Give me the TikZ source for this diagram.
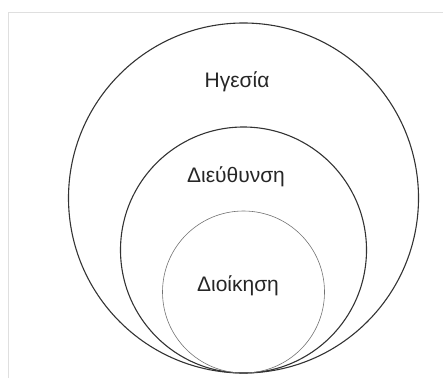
\documentclass[tikz,border=0pt]{standalone}
\usepackage{fontspec}
\setmainfont{Liberation Sans}
\begin{document}
\begin{tikzpicture}[x=1pt, y=1pt,
    every node/.style={font=\fontsize{21}{25}\selectfont, text=black!85},
    ring/.style={black!80, line width=1.1pt},
    innerring/.style={black!55, line width=0.6pt}]
  \useasboundingbox (0,0) rectangle (443,378);
  \draw[gray!25, line width=1pt] (8,0) -- (8,365) -- (443,365);
  % three circles touching at the bottom
  \draw[ring] (243.5,180) circle[radius=175pt];
  \draw[ring] (243.5,128) circle[radius=123pt];
  \draw[innerring] (243.5,86) circle[radius=81pt];
  \node (hgesia) at (237,296) {Ηγεσία};
  \node (dieuth) at (236,201) {Διεύθυνση};
  \node (dioik) at (238,92) {Διοίκηση};
\end{tikzpicture}
\end{document}
